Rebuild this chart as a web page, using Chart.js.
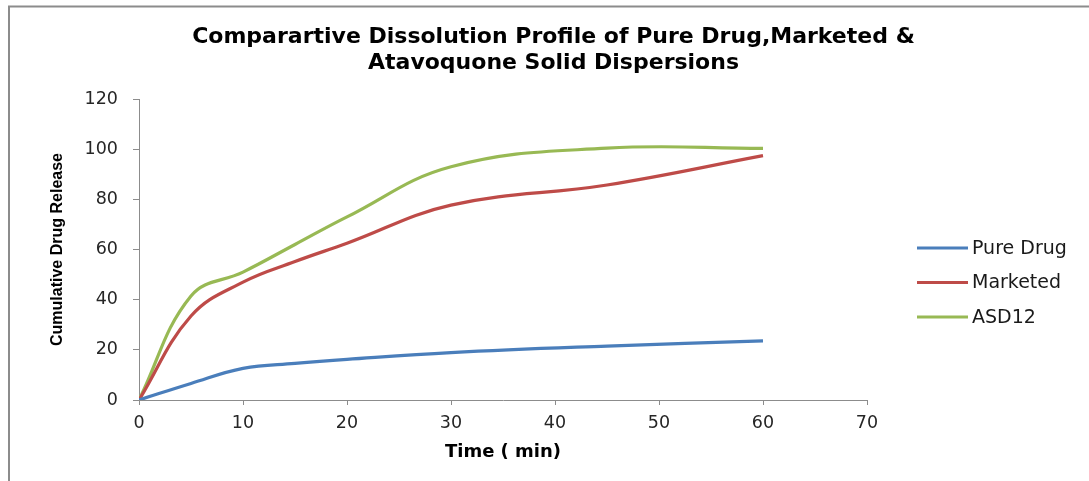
<!DOCTYPE html>
<html>
<head>
<meta charset="utf-8">
<title>Comparative Dissolution Profile</title>
<script src="https://cdn.jsdelivr.net/npm/chart.js@4.4.1/dist/chart.umd.min.js"></script>
<style>
    body { margin: 0; background: #ffffff; }
    #wrap { width: 1089px; height: 481px; }
</style>
</head>
<body>
<div id="wrap"><canvas id="dissolution-chart" width="1089" height="481"></canvas></div>
<script>
// Sampling times (min)
const times = [0, 5, 10, 15, 20, 30, 45, 60];

// Cumulative drug release (%)
const pureDrug = [0, 6.6, 12.6, 14.6, 16.2, 18.9, 21.5, 23.6];
const marketed = [0, 33.5, 47, 55.2, 62.5, 77.7, 85.7, 97.4];
const asd12 = [0, 41.5, 51, 62, 73, 93, 100.4, 100.3];

const seriesNames = ['Pure Drug', 'Marketed', 'ASD12'];
const seriesColors = ['#4a7ebb', '#be4b48', '#98b954'];

// Axis ticks
const xTicks = [0, 10, 20, 30, 40, 50, 60, 70];
const yTicks = [0, 20, 40, 60, 80, 100, 120];

const titleLines = ['Comparartive Dissolution Profile of Pure Drug,Marketed &', 'Atavoquone Solid Dispersions'];

function toPoints(values) {
    return times.map((t, i) => ({ x: t, y: values[i] }));
}

// Grey frame around the picture (left and top edges show)
const framePlugin = {
    id: 'frame',
    beforeDraw(chart) {
        const ctx = chart.ctx;
        ctx.save();
        ctx.strokeStyle = '#8c8c8c';
        ctx.lineWidth = 2;
        ctx.beginPath();
        ctx.moveTo(9, chart.height);
        ctx.lineTo(9, 6.5);
        ctx.lineTo(chart.width, 6.5);
        ctx.stroke();
        ctx.restore();
    }
};

// Legend drawn on the right, lower than centre like the original
const sideLegend = {
    id: 'sideLegend',
    afterDraw(chart) {
        const ctx = chart.ctx;
        ctx.save();
        ctx.font = '19px "DejaVu Sans"';
        ctx.textBaseline = 'middle';
        ctx.fillStyle = '#1a1a1a';
        chart.data.datasets.forEach((ds, i) => {
            const y = 248 + i * 34.5;
            ctx.strokeStyle = ds.borderColor;
            ctx.lineWidth = 3;
            ctx.beginPath();
            ctx.moveTo(917, y);
            ctx.lineTo(968, y);
            ctx.stroke();
            ctx.fillText(ds.label, 972, y + 1);
        });
        ctx.restore();
    }
};

function initChart() {
    const ctx = document.getElementById('dissolution-chart');
    Chart.defaults.font.family = '"DejaVu Sans", sans-serif';
    Chart.defaults.color = '#262626';

    const datasets = [pureDrug, marketed, asd12].map((values, i) => ({
        label: seriesNames[i],
        data: toPoints(values),
        borderColor: seriesColors[i],
        backgroundColor: seriesColors[i],
        borderWidth: 3.2,
        pointRadius: 0,
        tension: 0.4,
        fill: false
    }));

    new Chart(ctx, {
        type: 'line',
        data: { datasets: datasets },
        plugins: [framePlugin, sideLegend],
        options: {
            responsive: false,
            devicePixelRatio: 1,
            animation: false,
            layout: { padding: { left: 18, right: 0, top: 0, bottom: 0 } },
            plugins: {
                legend: { display: false },
                tooltip: { enabled: false },
                title: {
                    display: true,
                    text: titleLines,
                    color: '#000000',
                    font: { family: '"DejaVu Sans"', size: 22, weight: 'bold', lineHeight: 26 / 22 },
                    padding: { top: 24, bottom: 23 }
                }
            },
            scales: {
                x: {
                    type: 'linear',
                    min: 0,
                    max: 70,
                    afterBuildTicks(scale) { scale.ticks = xTicks.map(v => ({ value: v })); },
                    afterFit(scale) { scale.height = 81; },
                    grid: { drawOnChartArea: false, drawTicks: true, tickLength: 5, color: '#8c8c8c' },
                    border: { color: '#8c8c8c', width: 1 },
                    ticks: { font: { size: 17.5 }, padding: 8, color: '#262626' },
                    title: {
                        display: true,
                        text: 'Time ( min)',
                        color: '#000000',
                        font: { size: 18, weight: 'bold' },
                        padding: { top: 0, bottom: 18 }
                    }
                },
                y: {
                    min: 0,
                    max: 120,
                    afterBuildTicks(scale) { scale.ticks = yTicks.map(v => ({ value: v })); },
                    afterFit(scale) { scale.width = 121; },
                    grid: { drawOnChartArea: false, drawTicks: true, tickLength: 6, color: '#8c8c8c' },
                    border: { color: '#8c8c8c', width: 1 },
                    ticks: { font: { size: 17.5 }, padding: 15, color: '#262626' },
                    title: {
                        display: true,
                        text: 'Cumulative Drug Release',
                        color: '#000000',
                        font: { family: '"Liberation Sans Narrow", "Liberation Sans", sans-serif', size: 16, weight: 'bold' },
                        padding: { top: 30, bottom: 0 }
                    }
                },
                // keeps room on the right for the legend
                legendSpace: {
                    type: 'linear',
                    position: 'right',
                    grid: { display: false },
                    border: { display: false },
                    ticks: { display: false },
                    afterFit(scale) { scale.width = 222; }
                }
            }
        }
    });
}

document.addEventListener('DOMContentLoaded', initChart);
</script>
</body>
</html>
